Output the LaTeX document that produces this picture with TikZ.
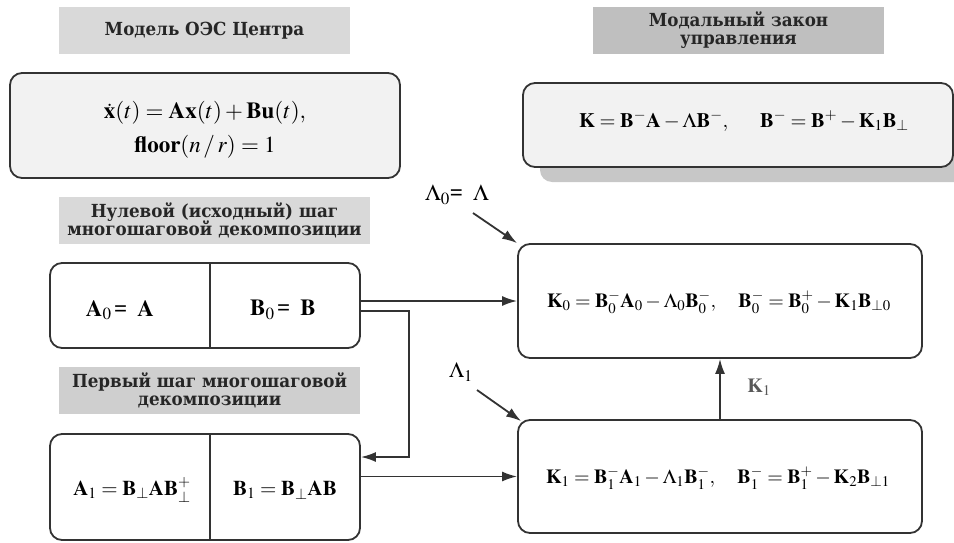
\documentclass[tikz,border=0pt]{standalone}
\usepackage{mathptmx}
\usepackage{fontspec}
\setmainfont{Liberation Serif}
\newfontfamily\titlefont{DejaVu Serif}[FakeStretch=0.93]
\usetikzlibrary{arrows.meta,shadows,calc}
\definecolor{ln}{HTML}{333333}
\definecolor{titleA}{HTML}{D9D9D9}
\definecolor{titleB}{HTML}{CFCFCF}
\definecolor{titleC}{HTML}{BFBFBF}
\definecolor{boxfill}{HTML}{F2F2F2}
\begin{document}
\begin{tikzpicture}[x=1pt,y=-1pt,
  titlebox/.style={fill=#1,inner sep=0pt,align=center,font=\titlefont\bfseries\fontsize{18}{21}\selectfont,text=black!85},
  rbox/.style={draw=ln,line width=1.8pt,rounded corners=12pt,inner sep=0pt},
  eq/.style={font=\fontsize{20}{24}\selectfont,inner sep=0pt},
  arr/.style={draw=ln,line width=1.8pt,-{Latex[length=15pt,width=10pt]}},
  conn/.style={draw=ln,line width=1.8pt}]
\useasboundingbox (0,0) rectangle (954,543);
% titles
\node[titlebox=titleA,minimum width=291pt,minimum height=47pt] (t1) at (204.5,30.5) {Модель ОЭС Центра};
\node[titlebox=titleC,minimum width=291pt,minimum height=47pt,text width=291pt] (t2) at (738.5,30.5) {Модальный закон\\[-3pt]управления};
\node[titlebox=titleA,minimum width=311pt,minimum height=47pt,text width=311pt] (t3) at (214.5,220.5) {Нулевой (исходный) шаг\\[-3pt]многошаговой декомпозиции};
\node[titlebox=titleB,minimum width=301pt,minimum height=47pt,text width=301pt] (t4) at (209.5,390.5) {Первый шаг многошаговой\\[-3pt]декомпозиции};
% model box
\node[rbox,fill=boxfill,minimum width=390pt,minimum height=105pt] (m) at (205,125.5) {};
\node[eq,font=\fontsize{23}{27}\selectfont] (m1) at (205,113) {$\dot{\mathbf{x}}(t)=\mathbf{A}\mathbf{x}(t)+\mathbf{B}\mathbf{u}(t),$};
\node[eq,font=\fontsize{23}{27}\selectfont] (m2) at (205,147) {$\mathbf{floor}(n\,/\,r)=1$};
% K box with shadow
\node[rbox,fill=boxfill,minimum width=430pt,minimum height=84pt,
  drop shadow={shadow xshift=17pt,shadow yshift=-15pt,fill=black!22,opacity=1}] (k) at (738,125) {};
\node[eq,font=\fontsize{20.5}{24}\selectfont] (ke) at (744,121) {$\mathbf{K}=\mathbf{B}^{-}\mathbf{A}-\Lambda\mathbf{B}^{-},\quad\;\; \mathbf{B}^{-}=\mathbf{B}^{+}-\mathbf{K}_1\mathbf{B}_{\perp}$};
% step 0
\node[rbox,fill=white,minimum width=310pt,minimum height=85pt] (s0) at (205,305.5) {};
\draw[conn,line width=1.2pt] (210,263) coordinate (d0a) -- (210,348) coordinate (d0b);
\node[eq,font=\fontsize{23}{27}\selectfont] (a0) at (120,310) {$\mathbf{A}_{0}\,\textbf{=}\;\;\mathbf{A}$};
\node[eq,font=\fontsize{23}{27}\selectfont] (b0) at (283,310) {$\mathbf{B}_{0}\,\textbf{=}\;\;\mathbf{B}$};
% step 1
\node[rbox,fill=white,minimum width=310pt,minimum height=106pt] (s1) at (205,487) {};
\draw[conn,line width=1.2pt] (210,434) coordinate (d1a) -- (210,540) coordinate (d1b);
\node[eq,font=\fontsize{21}{25}\selectfont] (a1) at (132,490) {$\mathbf{A}_1=\mathbf{B}_{\perp}\mathbf{A}\mathbf{B}_{\perp}^{+}$};
\node[eq,font=\fontsize{21}{25}\selectfont] (b1) at (285,490) {$\mathbf{B}_1=\mathbf{B}_{\perp}\mathbf{A}\mathbf{B}$};
% K0, K1
\node[rbox,fill=white,minimum width=404pt,minimum height=114pt] (k0) at (720,301) {};
\node[eq] (k0e) at (719,302) {$\mathbf{K}_0=\mathbf{B}_0^{-}\mathbf{A}_0-\Lambda_0\mathbf{B}_0^{-},\quad \mathbf{B}_0^{-}=\mathbf{B}_0^{+}-\mathbf{K}_1\mathbf{B}_{\perp 0}$};
\node[rbox,fill=white,minimum width=404pt,minimum height=113pt] (k1) at (720,476.5) {};
\node[eq] (k1e) at (718,478) {$\mathbf{K}_1=\mathbf{B}_1^{-}\mathbf{A}_1-\Lambda_1\mathbf{B}_1^{-},\quad \mathbf{B}_1^{-}=\mathbf{B}_1^{+}-\mathbf{K}_2\mathbf{B}_{\perp 1}$};
% lambda labels
\node[eq,font=\fontsize{23}{27}\selectfont] (l0) at (457,195) {$\Lambda_0\textbf{=}\;\;\Lambda$};
\node[eq,font=\fontsize{22}{26}\selectfont] (l1) at (461,372) {$\Lambda_1$};
\coordinate (l0s) at (473,213);
\coordinate (l1s) at (477,390);
\node[eq,text=black!65] (k1l) at (759,387) {$\mathbf{K}_1$};
% connectors
\draw[arr] (s0.east |- k0.west) -- (k0.west);
\draw[arr] ([yshift=-5.5pt]s0.east) -- ++(48,0) |- ([yshift=30pt]s1.east);
\draw[arr] (s1.east |- k1.west) -- (k1.west);
\draw[arr] (k1.north) -- (k0.south);
\draw[arr] (l0s) -- (k0.north west);
\draw[arr] (l1s) -- ([xshift=4pt,yshift=-2pt]k1.north west);
\end{tikzpicture}
\end{document}
